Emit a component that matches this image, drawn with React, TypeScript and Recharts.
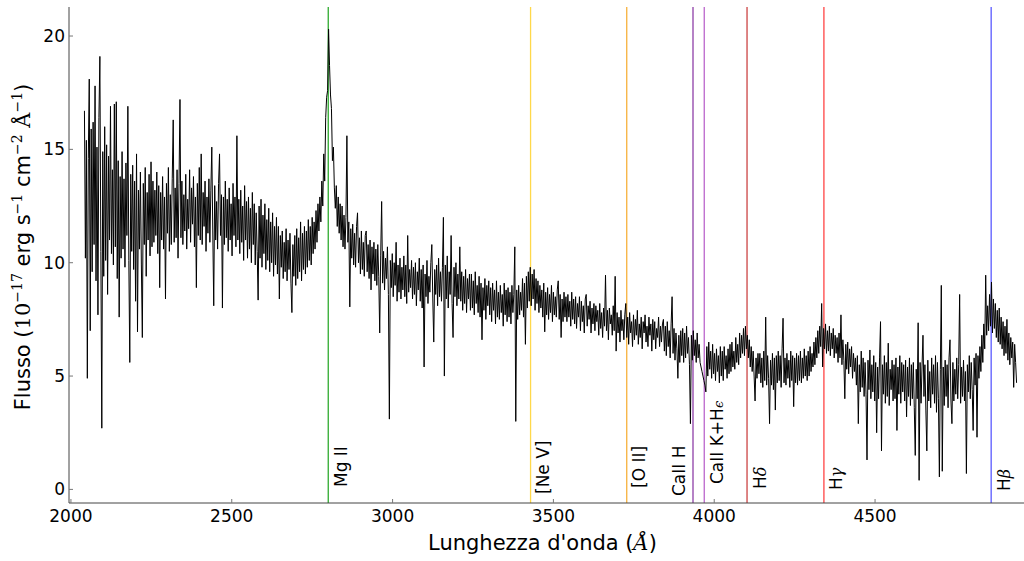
import React from 'react';
import { LineChart, Line, XAxis, YAxis, ReferenceLine } from 'recharts';

// Wavelength grid of the spectrum (Å): regular sampling
const WAVE_START = 2042;
const WAVE_STEP = 3;

// Flux (1e-17 erg s^-1 cm^-2 Å^-1), read block by block from the picture
const FLUX_2042_2339 = [
  16.7, 10.2, 15.4, 4.9, 14.6, 18.1, 7.0, 15.9, 9.6, 16.2,
  10.8, 17.8, 9.2, 15.1, 7.7, 16.4, 19.1, 10.5, 2.7, 14.9,
  9.4, 16.0, 10.1, 15.2, 8.6, 14.7, 11.0, 16.9, 10.4, 14.1,
  9.9, 17.0, 10.7, 17.1, 9.3, 14.5, 7.6, 13.8, 10.2, 14.9,
  10.6, 13.7, 9.8, 14.4, 11.2, 16.9, 10.1, 5.6, 13.9, 10.5,
  14.3, 9.7, 13.6, 8.3, 14.8, 6.95, 13.2, 10.6, 14.0, 9.9,
  6.7, 13.5, 10.8, 14.2, 9.4, 13.1, 11.0, 13.9, 10.3, 14.45,
  10.7, 13.6, 10.9, 13.2, 11.2, 14.0, 10.4, 13.4, 8.9, 13.1,
  11.0, 13.8, 10.6, 12.9, 8.4, 13.5, 11.3, 14.2, 10.5, 13.0,
  10.8, 13.7, 16.3, 10.9, 13.3, 11.1, 14.1, 10.2, 13.5, 17.2,
];
const FLUX_2342_2639 = [
  11.1, 13.6, 10.8, 13.0, 11.4, 13.9, 10.6, 12.8, 11.5, 14.1,
  10.9, 13.3, 11.7, 13.8, 10.7, 12.9, 8.9, 13.5, 11.2, 14.2,
  11.0, 14.8, 10.8, 13.1, 11.6, 13.6, 10.5, 12.9, 11.3, 13.7,
  10.9, 13.2, 15.1, 11.4, 8.1, 13.4, 11.0, 12.7, 10.6, 13.5,
  14.8, 11.2, 13.0, 8.0, 12.9, 10.8, 13.6, 11.1, 12.8, 10.5,
  13.3, 11.0, 12.6, 10.3, 13.5, 11.2, 12.9, 10.7, 15.6, 11.0,
  12.8, 10.4, 13.2, 10.9, 12.5, 10.1, 13.4, 11.0, 12.7, 10.2,
  12.9, 10.6, 12.4, 10.0, 13.1, 10.8, 12.6, 9.9, 12.2, 10.5,
  8.35, 12.5, 10.2, 12.8, 9.8, 12.1, 10.4, 12.6, 9.7, 11.9,
  10.1, 12.4, 9.6, 11.8, 10.0, 12.2, 9.4, 11.6, 9.9, 12.0,
];
const FLUX_2642_2939 = [
  9.5, 11.6, 8.4, 11.2, 9.8, 11.4, 9.3, 10.9, 9.6, 11.5,
  9.2, 11.0, 9.7, 11.3, 9.1, 7.8, 10.8, 9.4, 11.2, 9.0,
  11.5, 9.3, 11.1, 9.6, 11.8, 9.2, 11.3, 9.7, 11.6, 9.5,
  11.4, 9.8, 11.9, 10.1, 11.6, 9.9, 12.0, 10.4, 11.8, 10.6,
  12.3, 10.9, 12.6, 11.4, 12.9, 11.8, 13.6, 12.5, 14.8, 13.6,
  16.4, 17.3, 17.6, 20.3, 18.7, 17.4, 16.8, 14.5, 15.1, 13.3,
  12.4, 13.4, 11.6, 12.9, 11.3, 12.6, 11.0, 12.5, 10.7, 12.1,
  10.6, 12.0, 15.6, 10.9, 11.8, 8.05, 11.5, 10.2, 11.7, 9.9,
  11.3, 9.8, 11.6, 12.2, 10.0, 11.1, 9.5, 11.4, 9.7, 10.9,
  9.4, 11.2, 11.4, 9.6, 10.8, 9.3, 11.0, 8.8, 10.7, 9.5,
];
const FLUX_2942_3239 = [
  10.9, 9.2, 10.6, 9.0, 10.8, 9.4, 6.9, 10.3, 12.7, 9.1,
  10.5, 8.8, 10.2, 9.3, 10.7, 8.6, 3.1, 10.1, 8.9, 10.4,
  8.5, 10.0, 9.0, 10.9, 8.3, 9.9, 8.7, 10.2, 8.4, 9.8,
  8.8, 10.3, 8.5, 9.9, 8.2, 11.2, 8.7, 9.7, 8.9, 10.1,
  8.4, 9.8, 8.6, 10.0, 8.1, 9.6, 8.8, 10.2, 8.3, 9.7,
  8.0, 9.9, 5.4, 9.5, 8.5, 10.1, 8.2, 9.4, 8.7, 10.0,
  10.8, 8.4, 6.5, 9.7, 8.6, 9.9, 8.1, 10.2, 8.5, 9.6,
  8.3, 9.8, 12.0, 5.0, 9.9, 8.4, 10.3, 8.0, 9.6, 8.6,
  11.2, 8.2, 6.7, 9.8, 8.5, 10.0, 8.1, 9.5, 8.4, 10.7,
  8.3, 9.6, 7.9, 9.4, 8.2, 9.7, 7.8, 9.3, 8.4, 9.5,
];
const FLUX_3242_3539 = [
  7.9, 9.5, 8.0, 9.2, 7.7, 9.6, 8.2, 9.0, 7.8, 9.4,
  7.6, 9.1, 6.6, 8.9, 7.9, 9.3, 7.5, 9.0, 8.1, 9.2,
  7.7, 8.9, 7.4, 9.1, 7.9, 8.8, 7.3, 9.2, 7.6, 8.7,
  7.5, 9.0, 7.8, 8.6, 7.2, 9.1, 7.7, 8.8, 7.4, 8.9,
  7.6, 8.7, 7.3, 9.0, 7.8, 8.6, 10.7, 3.0, 8.8, 7.5,
  9.0, 7.7, 8.7, 7.9, 9.3, 7.6, 9.1, 6.4, 9.4, 8.0,
  9.6, 8.3, 9.8, 8.1, 9.5, 8.4, 9.7, 7.9, 9.3, 8.2,
  9.2, 7.8, 9.0, 8.0, 8.8, 7.6, 9.1, 6.95, 8.7, 7.7,
  8.9, 7.5, 8.6, 7.8, 9.0, 7.4, 8.7, 7.7, 8.5, 7.6,
  8.8, 9.2, 7.5, 8.6, 6.7, 8.4, 7.4, 8.7, 7.6, 8.5,
];
const FLUX_3542_3839 = [
  7.4, 8.6, 7.6, 8.3, 7.2, 8.7, 7.5, 8.4, 7.3, 8.5,
  7.1, 8.2, 7.6, 8.5, 7.0, 8.3, 7.4, 8.1, 6.9, 8.4,
  8.6, 7.2, 8.1, 7.5, 8.3, 6.9, 8.0, 7.3, 8.2, 7.0,
  8.1, 7.4, 7.9, 6.8, 8.2, 7.1, 7.8, 6.7, 8.0, 7.2,
  9.45, 7.0, 7.9, 6.6, 8.0, 7.3, 7.7, 6.8, 8.1, 7.0,
  9.4, 6.1, 7.8, 6.9, 7.6, 6.5, 7.9, 7.0, 7.5, 6.6,
  7.7, 8.2, 6.7, 7.6, 6.4, 7.8, 6.9, 7.4, 6.3, 7.7,
  6.6, 7.5, 6.8, 7.9, 6.4, 7.3, 6.7, 7.6, 6.2, 7.4,
  6.9, 7.7, 6.5, 7.2, 6.3, 7.6, 6.8, 7.3, 6.1, 7.5,
  6.6, 7.4, 6.2, 7.1, 6.7, 7.6, 6.3, 7.2, 6.5, 7.3,
];
const FLUX_3842_4139 = [
  7.5, 6.1, 7.2, 5.9, 7.4, 6.3, 7.0, 5.8, 7.3, 8.5,
  6.0, 7.1, 5.7, 6.9, 6.2, 4.9, 6.8, 5.6, 7.0, 5.9,
  7.1, 5.6, 6.9, 5.8, 7.2, 6.0, 6.7, 5.5, 2.9, 6.8,
  5.7, 7.0, 5.9, 6.6, 5.6, 6.9, 5.8, 6.4, 5.6, 5.4,
  5.2, 5.0, 4.8, 4.6, 4.3, 6.3, 5.0, 6.5, 5.3, 6.1,
  4.9, 6.4, 5.1, 6.0, 4.8, 6.2, 5.2, 5.9, 4.7, 6.3,
  5.0, 6.1, 4.8, 6.3, 5.3, 5.9, 4.9, 6.2, 5.1, 6.4,
  5.2, 6.5, 5.4, 6.1, 5.3, 6.7, 5.6, 6.4, 5.5, 6.9,
  5.8, 6.8, 6.0, 7.1, 5.9, 7.2, 6.2, 6.8, 5.8, 6.6,
  5.4, 6.3, 5.2, 6.1, 5.0, 3.9, 5.8, 4.9, 6.0, 5.1,
];
const FLUX_4142_4439 = [
  6.0, 4.7, 5.8, 4.5, 6.1, 4.8, 7.6, 4.6, 5.9, 4.9,
  2.9, 5.7, 4.6, 6.0, 4.4, 5.8, 3.5, 5.9, 4.7, 6.1,
  4.8, 5.9, 4.5, 6.2, 7.55, 4.7, 5.8, 4.6, 6.0, 4.9,
  5.7, 4.5, 6.1, 4.8, 5.9, 3.65, 5.8, 4.7, 6.0, 4.6,
  5.9, 4.8, 6.1, 4.7, 5.8, 4.9, 6.2, 5.0, 5.9, 4.8,
  6.1, 5.0, 6.3, 5.2, 6.0, 5.4, 6.5, 5.5, 6.7, 5.8,
  7.0, 6.0, 7.2, 6.3, 8.2, 5.4, 7.1, 6.2, 7.3, 6.0,
  7.0, 6.1, 7.2, 5.9, 6.9, 6.2, 7.1, 5.8, 6.8, 6.0,
  6.7, 5.6, 6.9, 5.8, 7.7, 5.5, 6.6, 5.7, 4.0, 6.4,
  5.3, 6.5, 5.1, 6.2, 5.4, 6.3, 4.9, 6.0, 5.2, 5.8,
];
const FLUX_4442_4739 = [
  4.6, 5.9, 2.9, 5.5, 4.3, 6.1, 4.5, 5.8, 4.1, 5.6,
  4.2, 1.3, 5.7, 4.4, 6.15, 4.0, 5.5, 4.3, 5.9, 3.9,
  5.6, 2.5, 5.4, 4.0, 5.8, 7.4, 1.7, 5.5, 4.2, 5.9,
  3.8, 5.6, 4.1, 6.45, 3.7, 5.3, 4.4, 5.7, 3.9, 5.5,
  4.0, 5.8, 2.6, 5.4, 4.2, 5.9, 3.8, 5.6, 4.3, 5.5,
  3.9, 5.7, 3.2, 5.4, 4.1, 5.8, 3.7, 5.5, 4.0, 5.6,
  3.6, 1.5, 5.3, 4.0, 7.35, 0.4, 5.6, 3.8, 5.4, 6.8,
  4.1, 5.5, 3.5, 1.7, 5.7, 3.9, 5.2, 3.6, 5.8, 4.2,
  5.5, 3.8, 5.9, 3.4, 5.6, 4.0, 0.55, 5.3, 9.0, 0.8,
  5.4, 3.7, 5.7, 4.1, 5.5, 3.6, 5.8, 6.6, 3.9, 2.9,
];
const FLUX_4742_4940 = [
  5.6, 3.9, 5.3, 4.2, 5.8, 4.0, 5.5, 8.6, 3.8, 5.4,
  4.1, 5.7, 3.9, 5.2, 0.7, 5.5, 4.3, 5.9, 4.0, 5.6,
  4.4, 2.6, 5.8, 4.6, 6.0, 2.3, 5.9, 4.9, 6.3, 5.2,
  6.8, 5.6, 7.3, 6.2, 9.45, 6.8, 8.1, 7.0, 8.6, 7.2,
  9.15, 6.9, 8.4, 7.1, 8.2, 6.7, 7.9, 6.5, 8.0, 6.4,
  7.6, 6.2, 7.4, 5.9, 7.2, 6.0, 7.5, 5.7, 6.9, 5.5,
  6.7, 5.8, 6.5, 4.5, 6.4, 5.6, 4.7,
];

// Emission / absorption line markers
const LINE_LABELS = ['Mg II', '[Ne V]', '[O II]', 'CaII H', 'CaII K+H\u03f5', 'H\u03b4', 'H\u03b3', 'H\u03b2'];
const LINE_WAVES = [2800, 3429, 3728, 3934, 3969, 4102, 4341, 4861];

// Axis ticks
const X_TICKS = [2000, 2500, 3000, 3500, 4000, 4500];
const Y_TICKS = [0, 5, 10, 15, 20];
const X_DOMAIN = [1994, 5075];
const Y_DOMAIN = [-0.6, 21.28];

const FLUX = [
  ...FLUX_2042_2339, ...FLUX_2342_2639, ...FLUX_2642_2939, ...FLUX_2942_3239,
  ...FLUX_3242_3539, ...FLUX_3542_3839, ...FLUX_3842_4139, ...FLUX_4142_4439,
  ...FLUX_4442_4739, ...FLUX_4742_4940,
];
const DATA = FLUX.map((f, i) => ({ w: WAVE_START + i * WAVE_STEP, f }));

// styling (kept apart from the data)
const FONT = '"DejaVu Sans", sans-serif';
const SERIF = '"DejaVu Serif", serif';
const LINE_COLORS = ['#2eaa2e', '#ffd84a', '#f7b13c', '#8e3fa8', '#bb66cc', '#cc4444', '#ff4444', '#5a5aff'];
const LABEL_LAYOUT = [
  { dx: 18.5, up: 16 },
  { dx: 18.5, up: 9 },
  { dx: 18.5, up: 15 },
  { dx: -8.3, up: 7 },
  { dx: 18.5, up: 19 },
  { dx: 18.5, up: 14 },
  { dx: 18.5, up: 13 },
  { dx: 18.5, up: 12 },
];

const GREEK = /([\u03b1-\u03c9\u03f5])/;

function renderLineLabel(idx: number) {
  return (props: any) => {
    const vb = props && props.viewBox;
    if (!vb) return null;
    const lay = LABEL_LAYOUT[idx];
    const tx = vb.x + lay.dx;
    const ty = vb.y + vb.height - lay.up;
    const parts = LINE_LABELS[idx].split(GREEK).filter((p) => p.length > 0);
    return (
      <text
        x={tx}
        y={ty}
        transform={`rotate(-90 ${tx} ${ty})`}
        fontSize={17}
        fontFamily={FONT}
        fill="#000"
        textAnchor="start"
      >
        {parts.map((p, k) =>
          GREEK.test(p) ? (
            <tspan key={k} fontFamily={SERIF} fontStyle="italic" fontSize={p === '\u03f5' ? 13 : 16}>
              {p}
            </tspan>
          ) : (
            <tspan key={k}>{p}</tspan>
          )
        )}
      </text>
    );
  };
}

const renderXTitle = () => (
  <text x={542.5} y={550} textAnchor="middle" fontSize={21} fontFamily={FONT} fill="#000">
    Lunghezza d'onda (<tspan fontFamily={SERIF} fontStyle="italic">Å</tspan>)
  </text>
);

const renderYTitle = () => {
  const tx = 29.5;
  const ty = 247;
  const up = 8;
  return (
    <text
      x={tx}
      y={ty}
      transform={`rotate(-90 ${tx} ${ty})`}
      textAnchor="middle"
      fontSize={21}
      fontFamily={FONT}
      fill="#000"
    >
      Flusso (<tspan fontFamily={SERIF}>10</tspan>
      <tspan dy={-up} fontSize={14} fontFamily={SERIF}>−17</tspan>
      <tspan dy={up}> erg s</tspan>
      <tspan dy={-up} fontSize={14} fontFamily={SERIF}>−1</tspan>
      <tspan dy={up}> cm</tspan>
      <tspan dy={-up} fontSize={14} fontFamily={SERIF}>−2</tspan>
      <tspan dy={up} fontFamily={SERIF}> Å</tspan>
      <tspan dy={-up} fontSize={14} fontFamily={SERIF}>−1</tspan>
      <tspan dy={up}>)</tspan>
    </text>
  );
};

export default function App() {
  return (
    <div
      style={{
        position: 'absolute',
        left: 0,
        top: 0,
        width: 1024,
        height: 561,
        overflow: 'hidden',
        background: '#fff',
      }}
    >
      <LineChart width={1060} height={561} data={DATA} margin={{ top: 7, right: 0, bottom: 0, left: 0 }}>
        <XAxis
          dataKey="w"
          type="number"
          domain={X_DOMAIN}
          ticks={X_TICKS}
          interval={0}
          allowDataOverflow
          height={58}
          tickSize={-4}
          tickMargin={11}
          stroke="#444"
          tickLine={{ stroke: '#777' }}
          tick={{ fill: '#000', fontSize: 17, fontFamily: FONT }}
          label={renderXTitle}
        />
        <XAxis
          xAxisId="top"
          orientation="top"
          dataKey="w"
          type="number"
          domain={X_DOMAIN}
          ticks={X_TICKS}
          interval={0}
          allowDataOverflow
          height={0}
          tickSize={-4}
          tickFormatter={() => ''}
          stroke="#444"
          tickLine={{ stroke: '#777' }}
        />
        <YAxis
          type="number"
          domain={Y_DOMAIN}
          ticks={Y_TICKS}
          interval={0}
          allowDataOverflow
          width={69}
          tickSize={-4}
          tickMargin={8}
          stroke="#444"
          tickLine={{ stroke: '#777' }}
          tick={{ fill: '#000', fontSize: 17, fontFamily: FONT }}
          label={renderYTitle}
        />
        {LINE_WAVES.map((w, i) => (
          <ReferenceLine
            key={LINE_LABELS[i]}
            x={w}
            stroke={LINE_COLORS[i]}
            strokeWidth={1.3}
            label={renderLineLabel(i)}
          />
        ))}
        <Line
          dataKey="f"
          type="linear"
          stroke="#000"
          strokeWidth={1}
          dot={false}
          activeDot={false}
          isAnimationActive={false}
        />
      </LineChart>
    </div>
  );
}
